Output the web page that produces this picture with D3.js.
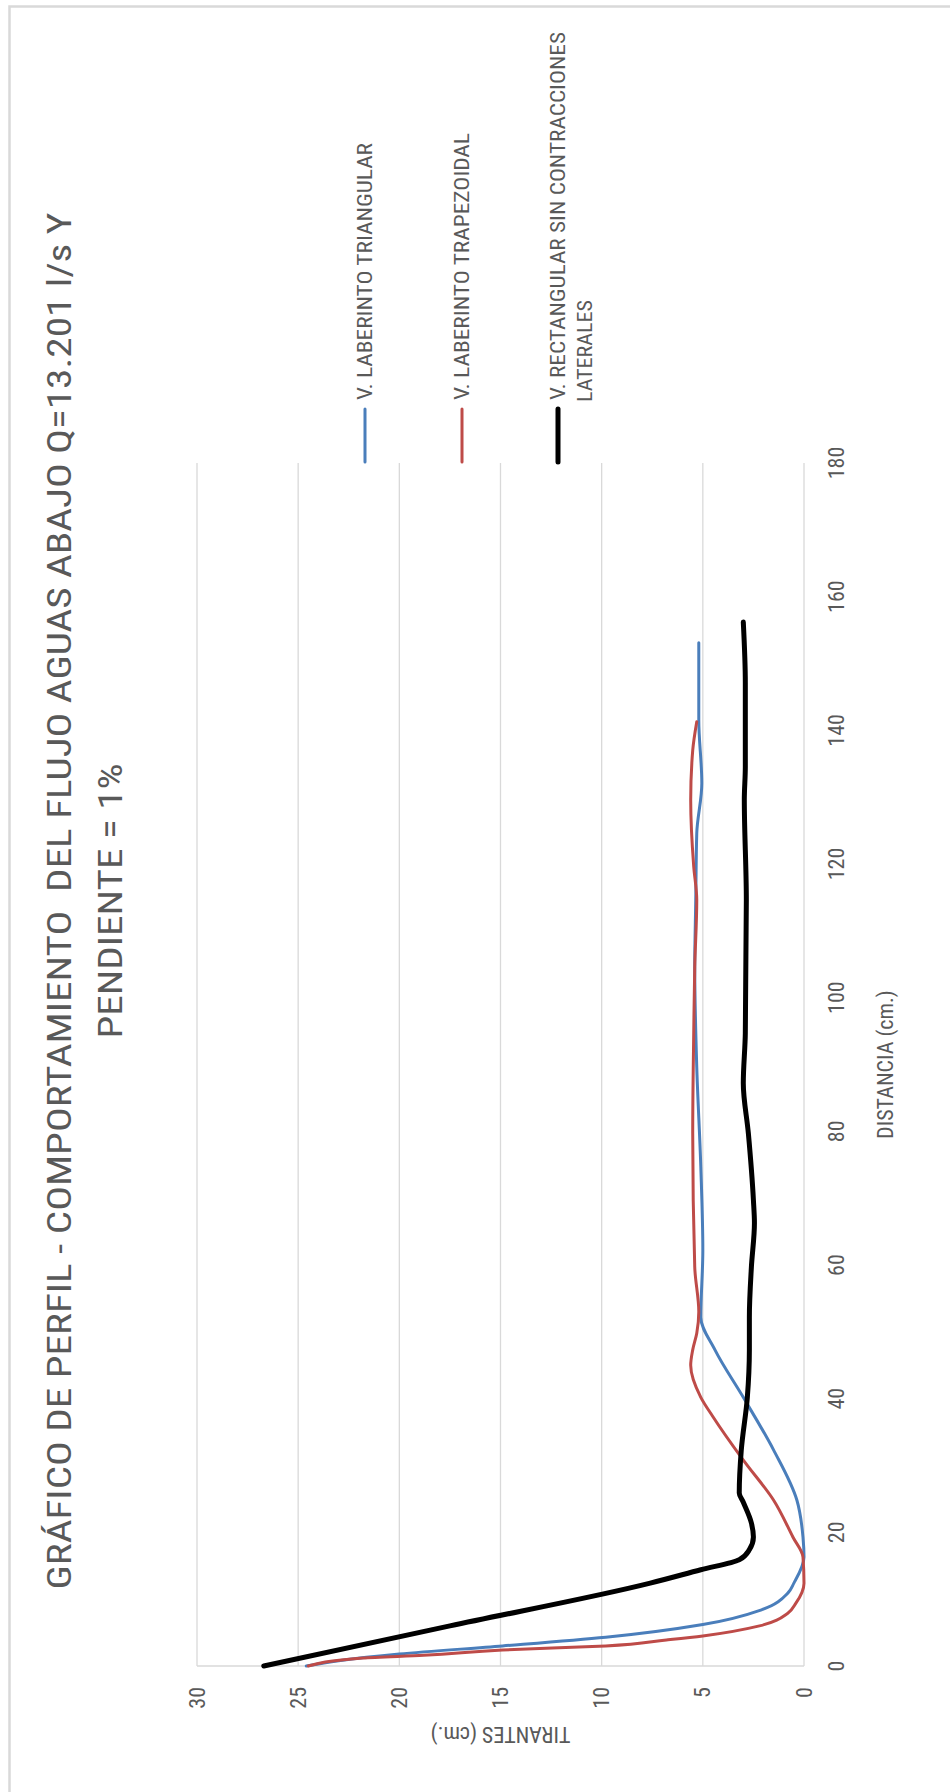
<!DOCTYPE html>
<html>
<head>
<meta charset="utf-8">
<script src="https://cdn.jsdelivr.net/npm/d3@7"></script>
<style>
body { margin: 0; background: #fff; }
text { font-family: 'Liberation Sans Narrow', 'Roboto Condensed', Roboto, sans-serif; fill: #595959; white-space: pre; }
</style>
</head>
<body>
<div id="chart-area"></div>
<script>
// distancia (cm.) / tirantes (cm.)
var distTriangular = [0, 0.8, 1.8, 3.0, 4.3, 6.2, 8.4, 10.9, 12.4, 16.3, 19.3, 24.8, 32.3, 40.2, 47.3, 52.2, 62.2, 74.7, 89.6, 104.6, 114.6, 124.6, 132.1, 141.6, 153.1];
var tirTriangular  = [24.6, 23.0, 20.0, 14.9, 9.8, 5.0, 2.1, 0.8, 0.5, 0.0, 0.05, 0.35, 1.5, 3.0, 4.4, 5.1, 5.0, 5.1, 5.3, 5.4, 5.35, 5.3, 5.05, 5.2, 5.2];

var distTrapezoidal = [0, 1.2, 1.6, 2.4, 3.0, 3.9, 4.5, 6.0, 7.9, 9.4, 12.4, 16.3, 19.3, 24.8, 30.8, 37.3, 40.2, 45.0, 47.3, 49.8, 53.0, 59.7, 79.7, 94.7, 104.6, 114.6, 119.6, 129.6, 137.0, 141.3];
var tirTrapezoidal  = [24.5, 21.8, 18.8, 14.9, 9.8, 6.8, 5.0, 2.2, 0.8, 0.4, 0.0, 0.05, 0.55, 1.5, 3.0, 4.5, 5.1, 5.6, 5.5, 5.3, 5.2, 5.4, 5.5, 5.45, 5.4, 5.3, 5.45, 5.6, 5.5, 5.3];

var distRectangular = [0, 6.0, 12.4, 14.4, 15.9, 17.4, 19.3, 21.4, 24.5, 25.9, 32.3, 40.2, 47.3, 52.2, 59.7, 66.3, 69.7, 79.7, 87.2, 94.7, 114.6, 129.6, 134.5, 147.1, 156.2];
var tirRectangular  = [26.7, 17.5, 7.6, 5.1, 3.2, 2.7, 2.5, 2.6, 3.0, 3.2, 3.1, 2.8, 2.7, 2.7, 2.6, 2.45, 2.5, 2.75, 3.0, 2.9, 2.85, 2.95, 2.9, 2.9, 3.0];

var seriesNames = ["V. LABERINTO TRIANGULAR", "V. LABERINTO TRAPEZOIDAL", "V. RECTANGULAR SIN CONTRACCIONES", "LATERALES"];
var xTicks = [0, 20, 40, 60, 80, 100, 120, 140, 160, 180];
var yTicks = [0, 5, 10, 15, 20, 25, 30];

var W = 950, H = 1792;
var svg = d3.select("#chart-area").append("svg")
    .attr("width", W)
    .attr("height", H);

// outer frame
svg.append("rect")
    .attr("x", 9.5).attr("y", 6.5)
    .attr("width", 1000).attr("height", 1850)
    .attr("fill", "none")
    .attr("stroke", "#d9d9d9")
    .attr("stroke-width", 2.5);

// whole chart is turned 90 degrees counter-clockwise
var g = svg.append("g")
    .attr("transform", "translate(0," + H + ") rotate(-90)");

var x = d3.scaleLinear().domain([0, 180]).range([126, 1329]);
var y = d3.scaleLinear().domain([0, 30]).range([804, 197]);

// gridlines
g.selectAll(".grid")
    .data(yTicks)
    .enter().append("line")
    .attr("class", "grid")
    .attr("x1", x(0)).attr("x2", x(180))
    .attr("y1", (d) => y(d)).attr("y2", (d) => y(d))
    .attr("stroke", "#d9d9d9")
    .attr("stroke-width", 1.3);
g.append("line")
    .attr("x1", x(0)).attr("x2", x(0))
    .attr("y1", y(0)).attr("y2", y(30))
    .attr("stroke", "#d9d9d9")
    .attr("stroke-width", 1.3);

// tick labels
g.selectAll(".xlab")
    .data(xTicks)
    .enter().append("text")
    .attr("class", "xlab")
    .attr("x", (d) => x(d))
    .attr("y", 836)
    .attr("dominant-baseline", "central")
    .attr("text-anchor", "middle")
    .attr("font-size", "22px")
    .text((d) => d);
g.selectAll(".ylab")
    .data(yTicks)
    .enter().append("text")
    .attr("class", "ylab")
    .attr("x", 105)
    .attr("y", (d) => y(d))
    .attr("dominant-baseline", "central")
    .attr("text-anchor", "end")
    .attr("font-size", "22px")
    .text((d) => d);

// axis titles
g.append("text")
    .attr("x", (x(0) + x(180)) / 2)
    .attr("y", 893)
    .attr("text-anchor", "middle")
    .attr("font-size", "22px")
    .text("DISTANCIA (cm.)");
g.append("text")
    .attr("transform", "translate(58," + ((y(0) + y(30)) / 2) + ") rotate(-90)")
    .attr("dominant-baseline", "central")
    .attr("text-anchor", "middle")
    .attr("font-size", "22px")
    .text("TIRANTES (cm.)");

// series
var line = d3.line()
    .x((d) => x(d[0]))
    .y((d) => y(d[1]))
    .curve(d3.curveMonotoneX);
var series = [
    { pts: d3.zip(distTriangular, tirTriangular), color: "#4a7ebb", w: 3 },
    { pts: d3.zip(distTrapezoidal, tirTrapezoidal), color: "#be4b48", w: 3 },
    { pts: d3.zip(distRectangular, tirRectangular), color: "#000000", w: 5 }
];
g.selectAll(".series")
    .data(series)
    .enter().append("path")
    .attr("class", "series")
    .attr("d", (d) => line(d.pts))
    .attr("fill", "none")
    .attr("stroke", (d) => d.color)
    .attr("stroke-width", (d) => d.w)
    .attr("stroke-linejoin", "round")
    .attr("stroke-linecap", "round");

// legend
var legendV = [365, 462, 558];
var legend = g.selectAll(".legend")
    .data(series)
    .enter().append("g")
    .attr("class", "legend")
    .attr("transform", (d, i) => "translate(0," + legendV[i] + ")");
legend.append("line")
    .attr("x1", 1330).attr("x2", 1383)
    .attr("y1", 0).attr("y2", 0)
    .attr("stroke", (d) => d.color)
    .attr("stroke-width", (d) => d.w)
    .attr("stroke-linecap", "round");
var legendLen = [257, 267, 368, 102];
var legendPos = [[1392, 365], [1392, 462], [1392, 558], [1390, 585]];
seriesNames.forEach((name, i) => {
    g.append("text")
        .attr("x", legendPos[i][0])
        .attr("y", legendPos[i][1])
        .attr("dominant-baseline", "central")
        .attr("font-size", "21px")
        .attr("textLength", legendLen[i])
        .attr("lengthAdjust", "spacingAndGlyphs")
        .text(name);
});

// title
var t1 = g.append("text")
    .attr("x", 891).attr("y", 71)
    .attr("text-anchor", "middle")
    .attr("font-size", "34px")
    .text("GRÁFICO DE PERFIL - COMPORTAMIENTO  DEL FLUJO AGUAS ABAJO Q=13.201 l/s Y");
var t2 = g.append("text")
    .attr("x", 891).attr("y", 122)
    .attr("text-anchor", "middle")
    .attr("font-size", "34px")
    .text("PENDIENTE = 1%");
var k = 1377 / t1.node().getComputedTextLength();
var n2 = t2.node().getComputedTextLength();
t1.attr("textLength", 1377).attr("lengthAdjust", "spacingAndGlyphs");
t2.attr("textLength", n2 * k).attr("lengthAdjust", "spacingAndGlyphs");
</script>
</body>
</html>
